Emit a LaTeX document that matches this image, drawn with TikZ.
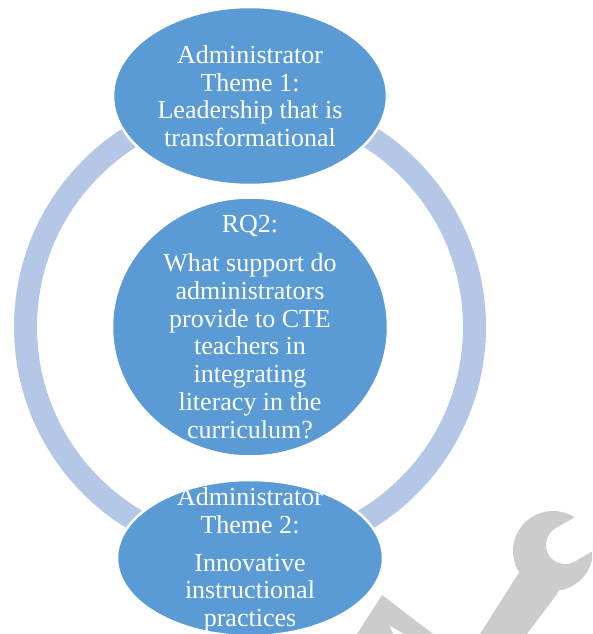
\documentclass[tikz,border=0pt]{standalone}
\usepackage{fontspec}
\setmainfont{Liberation Serif}
\usetikzlibrary{shapes.geometric}
\definecolor{bubblecol}{RGB}{91,155,213}
\definecolor{ringcol}{RGB}{180,199,231}
\definecolor{wmcol}{RGB}{204,204,204}
\begin{document}
\begin{tikzpicture}[x=1pt,y=-1pt,
  bubble/.style={ellipse, fill=bubblecol, draw=white, line width=2.5pt, inner sep=0pt},
  bubbletext/.style={text=white, align=center, inner sep=0pt, anchor=north,
    font=\fontsize{26}{27.7}\selectfont},
  wm/.style={fill=wmcol}]
\useasboundingbox (0,0) rectangle (592,634);
\clip (0,0) rectangle (592,634);
% watermark
\fill[wm] (553,551) circle (40pt);
\fill[wm] (515,565) -- (520,571) -- (480,634) -- (527,634) -- (557,594) -- (560,585) -- cycle;
\fill[white] (565,545) circle (19pt);
\fill[white] (574.5,561.5) -- (626.5,531.5) -- (607.5,498.5) -- (555.5,528.5) -- cycle;
\fill[wm] (382,595) -- (433,634) -- (357,634) -- cycle;
\fill[white] (390,626) -- (404,634) -- (393,634) -- cycle;
% ring
\coordinate (hub) at (250,327);
\draw[ringcol, line width=23pt] (hub) circle (224.5pt);
% bubbles
\node[bubble, minimum width=274pt, minimum height=178pt] (top) at (250,96) {};
\node[bubble, minimum width=276pt, minimum height=259pt] (mid) at (hub) {};
\node[bubble, minimum width=266pt, minimum height=156pt] (bot) at (250,558) {};
% texts
\node[bubbletext] (toptext) at (250,45.2) {Administrator\\Theme 1:\\Leadership that is\\transformational};
\node[bubbletext] (midtext) at (250,215.4) {RQ2:\\[11.3pt]What support do\\administrators\\provide to CTE\\teachers in\\integrating\\literacy in the\\curriculum?};
\node[bubbletext] (bottext) at (250,487.2) {Administrator\\Theme 2:\\[10.3pt]Innovative\\instructional\\practices};
\end{tikzpicture}
\end{document}
